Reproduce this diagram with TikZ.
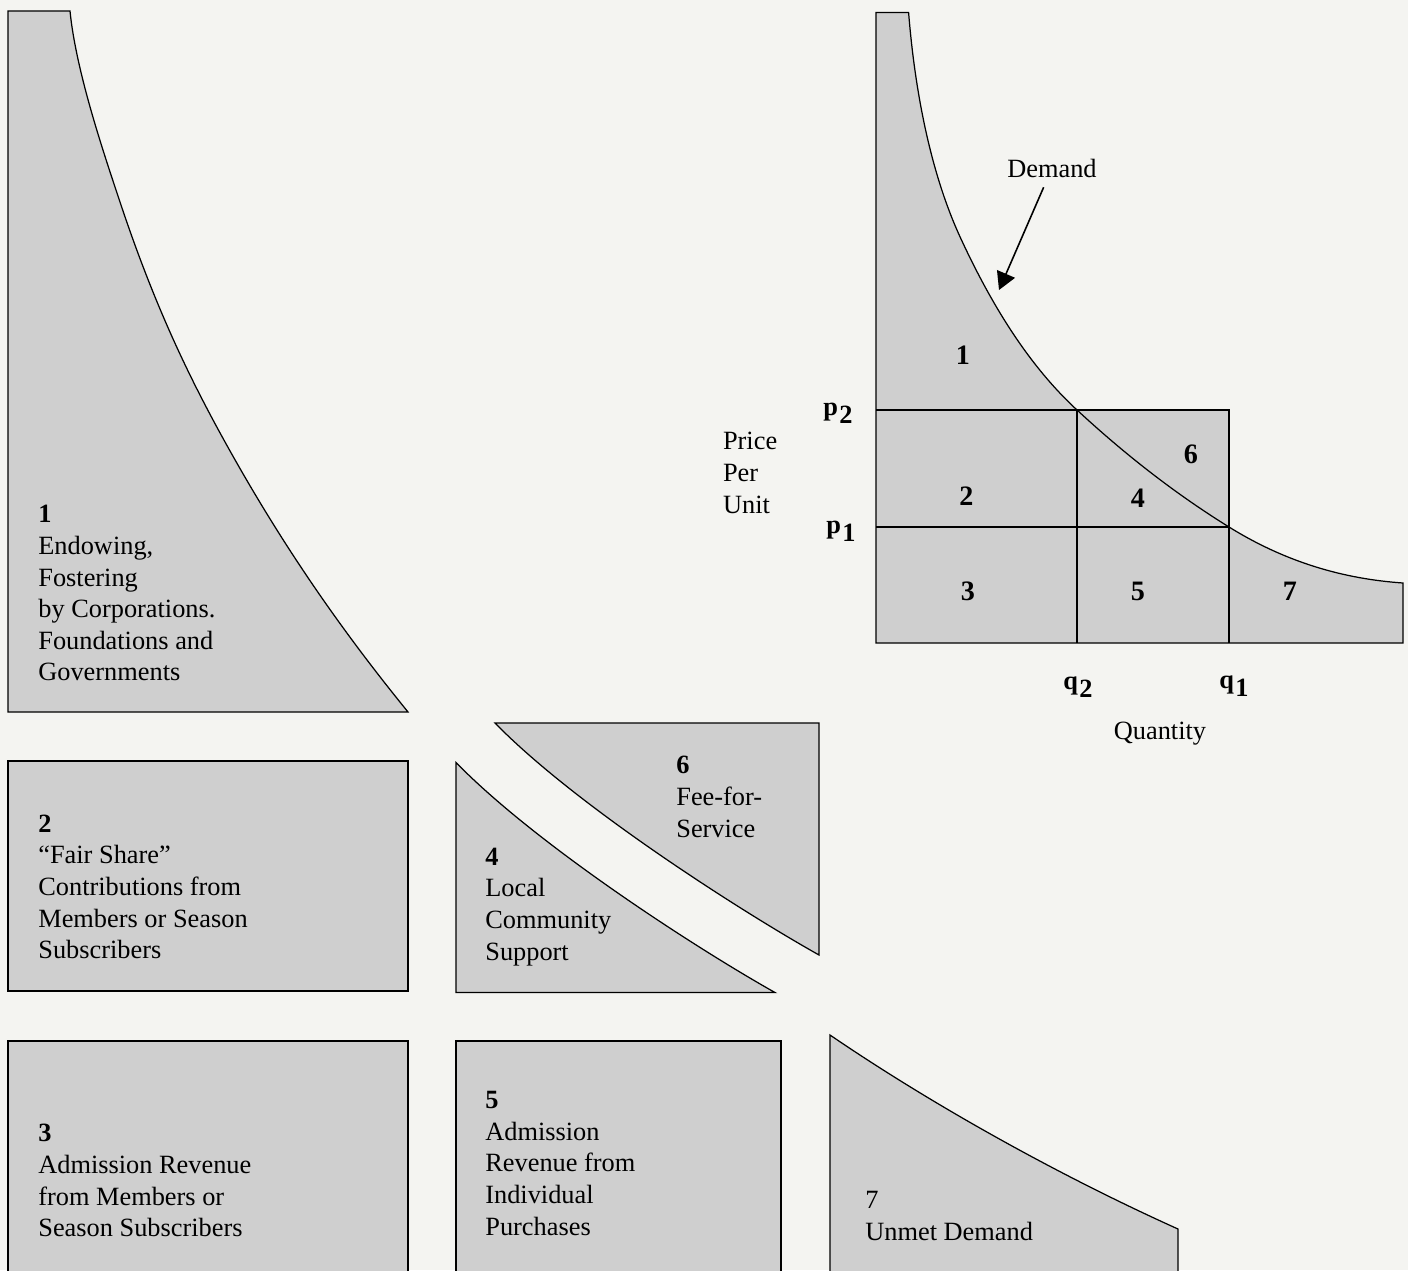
\documentclass[tikz,border=0pt]{standalone}
\usepackage{fontspec}
\setmainfont{Liberation Serif}
\usetikzlibrary{arrows.meta}
\definecolor{piecegray}{RGB}{207,207,207}
\definecolor{paper}{RGB}{244,244,241}
\newcommand{\sublab}[2]{\textbf{#1\kern0.8pt\raisebox{-5pt}{#2}}}

\begin{document}
\begin{tikzpicture}[x=0.02cm,y=-0.02cm,
	every node/.style={inner sep=0pt,font={\fontsize{15}{18}\selectfont}},
	piecestyle/.style={fill=piecegray,draw=black,line width=0.7pt},
	gridline/.style={draw=black,line width=0.7pt},
	blocktext/.style={anchor=north west,align=left},
	bignum/.style={font={\fontsize{16}{18}\selectfont\bfseries}},
	arrowstyle/.style={-{Triangle[length=10pt,width=11pt]},line width=0.9pt,shorten <=6pt}]

	\useasboundingbox (0,0) rectangle (1408,1270);
	\clip (0,0) rectangle (1408,1270);
	\fill[paper] (0,0) rectangle (1408,1270);

	% main diagram
	\coordinate (o) at (876,643);
	\coordinate (ytop) at (876,12.6);
	\coordinate (ctop) at (908.6,12.6);
	\coordinate (cmid) at (959.5,235.7);
	\coordinate (xend) at (1403,643);
	\coordinate (cend) at (1403,583);
	\coordinate (p2a) at (876,410);
	\coordinate (p2b) at (1229,410);
	\coordinate (p1a) at (876,527);
	\coordinate (p1b) at (1229,527);
	\coordinate (q2t) at (1077,410);
	\coordinate (q2b) at (1077,643);
	\coordinate (q1b) at (1229,643);
	\coordinate (dtip) at (999,290);

	\fill[piecegray] (q2t) rectangle (p1b);
	\filldraw[piecestyle] (o) -- (ytop) -- (ctop)
		.. controls +(6,75) and +(-30,-66) .. (cmid)
		.. controls +(39,85) and +(-39,-36) .. (q2t)
		.. controls +(50.7,47) and +(-50.7,-31.4) .. (p1b)
		.. controls +(58,36) and +(-58,-4) .. (cend)
		-- (xend) -- cycle;
	\draw[gridline] (p2a) -- (p2b) -- (q1b);
	\draw[gridline] (p1a) -- (p1b);
	\draw[gridline] (q2t) -- (q2b);

	\node[bignum] (n1) at (963,355.6) {1};
	\node[bignum] (n2) at (966.4,496.6) {2};
	\node[bignum] (n3) at (968,591) {3};
	\node[bignum] (n4) at (1138,498.7) {4};
	\node[bignum] (n5) at (1138,591) {5};
	\node[bignum] (n6) at (1191,454.5) {6};
	\node[bignum] (n7) at (1290,591) {7};

	\node (demand) at (1052,168) {Demand};
	\draw[arrowstyle] (demand) -- (dtip);

	\node[blocktext] (price) at (722.7,432) {Price\\Per\\Unit};
	\node[anchor=base west] (p2) at (823,415) {\sublab{p}{2}};
	\node[anchor=base west] (p1) at (826,533) {\sublab{p}{1}};
	\node[anchor=base west] (q2) at (1063,689) {\sublab{q}{2}};
	\node[anchor=base west] (q1) at (1219,688) {\sublab{q}{1}};
	\node[anchor=base] (quantity) at (1160,739) {Quantity};

	% the pieces taken apart
	\filldraw[piecestyle] (8,712) -- (8,11) -- (70,11)
		.. controls +(6,60) and +(-17,-51) .. (120,202)
		.. controls +(35.6,107) and +(-35.6,-64) .. (226.7,445)
		.. controls +(60.4,108.7) and +(-60.4,-74.3) .. (408,712) -- cycle;
	\filldraw[piecestyle] (8,761) rectangle (408,991);
	\filldraw[piecestyle] (8,1041) rectangle (408,1290);
	\filldraw[piecestyle] (456,762.5) .. controls +(80,82) and +(-80,-45) .. (775,992.5) -- (456,992.5) -- cycle;
	\filldraw[piecestyle] (456,1041) rectangle (781,1290);
	\filldraw[piecestyle] (495,723) -- (819,723) -- (819,955) .. controls +(-80,-45) and +(80,82) .. (495,723) -- cycle;
	\filldraw[piecestyle] (830,1290) -- (830,1035) .. controls +(110,75) and +(-110,-49.5) .. (1178,1229) -- (1178,1290) -- cycle;

	\node[blocktext] (t1) at (38,505) {\textbf{1}\\Endowing,\\Fostering\\by Corporations.\\Foundations and\\Governments};
	\node[blocktext] (t2) at (38,814.5) {\textbf{2}\\“Fair Share”\\Contributions from\\Members or Season\\Subscribers};
	\node[blocktext] (t3) at (38,1124) {\textbf{3}\\Admission Revenue\\from Members or\\Season Subscribers};
	\node[blocktext] (t4) at (485,847.5) {\textbf{4}\\Local\\Community\\Support};
	\node[blocktext] (t5) at (485,1091) {\textbf{5}\\Admission\\Revenue from\\Individual\\Purchases};
	\node[blocktext] (t6) at (676,756) {\textbf{6}\\Fee-for-\\Service};
	\node[blocktext] (t7) at (865,1191) {7\\Unmet Demand};
\end{tikzpicture}
\end{document}
